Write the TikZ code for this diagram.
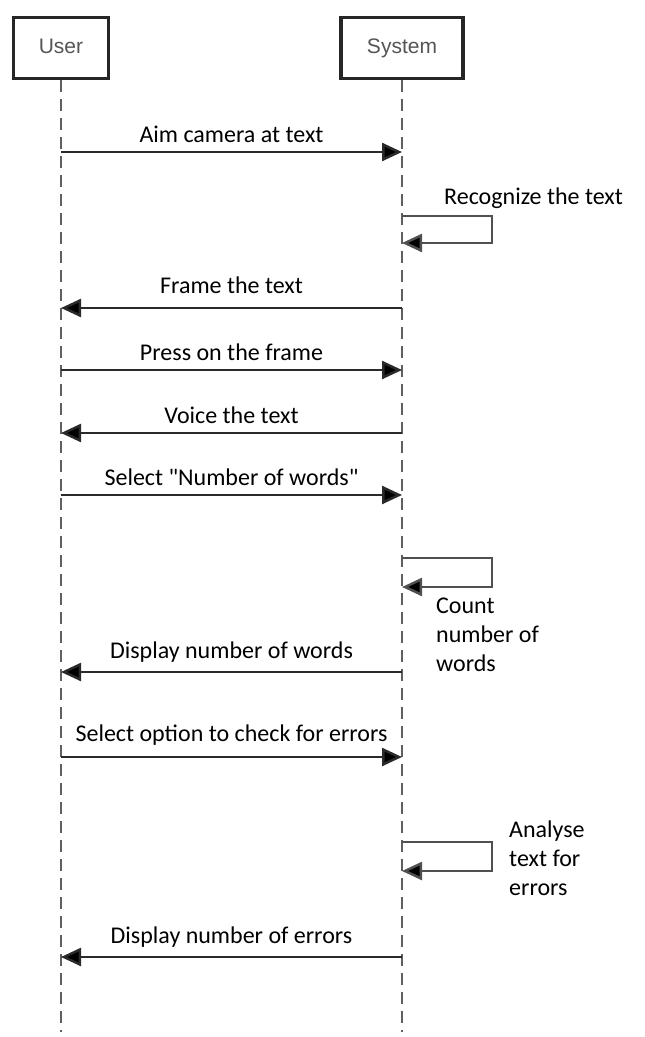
\documentclass[tikz,border=0pt]{standalone}
\usepackage{fontspec}
\setmainfont{Carlito}
\newfontfamily\plaincalib{Carlito}
\newfontfamily\boxfont{Liberation Sans}
\usetikzlibrary{arrows.meta}
\definecolor{msgline}{HTML}{2A2A2A}
\definecolor{selfline}{HTML}{505050}
\definecolor{lifeline}{HTML}{606060}
\definecolor{boxtext}{HTML}{555555}
\begin{document}
\begin{tikzpicture}[x=1pt,y=-1pt,
  actor/.style={draw=black!85,line width=3.4pt,fill=white,minimum height=61pt,
    font=\boxfont\fontsize{21}{25}\selectfont,text=boxtext,text height=15pt,text depth=4pt},
  lifeln/.style={draw=lifeline,line width=2.3pt,dash pattern=on 12pt off 7pt},
  tip/.style={-{Triangle[length=20pt,width=18pt,fill=black]}},
  msg/.style={draw=msgline,line width=2.5pt,tip},
  selfmsg/.style={draw=selfline,line width=2.5pt,tip},
  lbl/.style={font=\fontsize{24}{29}\selectfont,text=black,inner sep=0pt},
  note/.style={font=\fontsize{24}{29}\selectfont,align=left,inner sep=0pt,anchor=north west}]
\useasboundingbox (0,0) rectangle (645,1037);

% participants
\node[actor,minimum width=95pt] (user) at (61,48) {User};
\node[actor,minimum width=122pt] (sys) at (402,48) {System};

% lifeline ends
\coordinate (uend) at (61,1032);
\coordinate (send) at (402,1032);
\draw[lifeln] (user.south) -- (uend);
\draw[lifeln] (sys.south) -- (send);

% points on the lifelines for each message
\foreach \n/\y in {1/152,3/308,4/370,5/433,6/495,8/672,9/757,11/957}{
  \coordinate (u\n) at (61,\y);
  \coordinate (s\n) at (402,\y);
}
% self-message loops
\coordinate (a2) at (402,216); \coordinate (b2) at (402,243);
\coordinate (a7) at (402,558); \coordinate (b7) at (402,587);
\coordinate (a10) at (402,842); \coordinate (b10) at (402,871);

% messages
\draw[msg] (u1) -- node[lbl,above=8pt] {Aim camera at text} (s1);
\draw[selfmsg] (a2) -- ++(90,0) |- (b2);
\node[lbl,anchor=west] (t2) at (444,198) {Recognize the text};
\draw[msg] (s3) -- node[lbl,above=13pt] {Frame the text} (u3);
\draw[msg] (u4) -- node[lbl,above=8pt] {Press on the frame} (s4);
\draw[msg] (s5) -- node[lbl,above=8pt] {Voice the text} (u5);
\draw[msg] (u6) -- node[lbl,above=8pt] {\plaincalib Select "Number of words"} (s6);
\draw[selfmsg] (a7) -- ++(90,0) |- (b7);
\node[note] (t7) at (436,598) {Count\\number of\\words};
\draw[msg] (s8) -- node[lbl,above=8pt] {Display number of words} (u8);
\draw[msg] (u9) -- node[lbl,above=10pt] {Select option to check for errors} (s9);
\draw[selfmsg] (a10) -- ++(90,0) |- (b10);
\node[note] (t10) at (509,821) {Analyse\\text for\\errors};
\draw[msg] (s11) -- node[lbl,above=8pt] {Display number of errors} (u11);
\end{tikzpicture}
\end{document}
